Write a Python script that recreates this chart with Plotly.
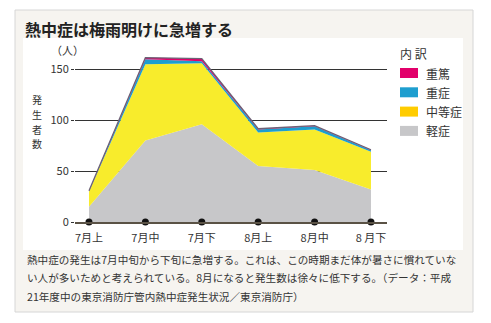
import plotly.graph_objects as go

categories = ["7月上", "7月中", "7月下", "8月上", "8月中", "8 月下"]
mild = [15, 80, 96, 55, 51, 32]          # 軽症
moderate = [15, 75, 60, 33, 40, 37]      # 中等症
severe = [0.5, 5, 2, 3, 3, 1.5]          # 重症
critical = [0.3, 1.5, 2.5, 0.6, 0.6, 0.5]  # 重篤
y_ticks = [0, 50, 100, 150]

W, H = 491, 323
L, R, T, B = 75, 104, 51, 101
FONT = "Noto Sans CJK JP"
C_MAG = "#e2006b"
C_CYAN = "#1e9ecf"
C_YEL = "#f8ec2c"
C_YEL_SW = "#ffcc00"
C_GRAY = "#c7c7c9"

def px(x):
    return (x - L) / (W - L - R)

def py(y):
    return 1 - (y - T) / (H - T - B)

fig = go.Figure()
series = [("軽症", mild, C_GRAY), ("中等症", moderate, C_YEL),
          ("重症", severe, C_CYAN), ("重篤", critical, C_MAG)]
for name, vals, col in series:
    fig.add_trace(go.Scatter(
        x=categories, y=vals, name=name, stackgroup="one", mode="lines",
        line=dict(width=0, color=col), fillcolor=col, showlegend=False,
        hoverinfo="skip"))
# top outline
fig.data[-1].line = dict(width=1.3, color="#6c6276")

fig.add_trace(go.Scatter(
    x=categories, y=[0 for _ in categories], mode="markers",
    marker=dict(color="#111", size=7), cliponaxis=False,
    showlegend=False, hoverinfo="skip"))

shapes = [
    dict(type="rect", xref="paper", yref="paper", x0=px(15), x1=px(473),
         y0=py(312), y1=py(10), fillcolor="#f6f4f0",
         line=dict(color="#d6d6d6", width=1), layer="below"),
    dict(type="rect", xref="paper", yref="paper", x0=px(23), x1=px(463),
         y0=py(250), y1=py(38), fillcolor="#ffffff",
         line=dict(width=0), layer="below"),
]

annotations = [
    dict(text="<b>熱中症は梅雨明けに急増する</b>", x=px(23), y=py(29),
         xanchor="left", yanchor="middle", font=dict(size=16, color="#222")),
    dict(text="（人）", x=px(49), y=py(50), xanchor="left", yanchor="middle",
         font=dict(size=11, color="#333")),
    dict(text="内 訳", x=px(398), y=py(53), xanchor="left", yanchor="middle",
         font=dict(size=12, color="#333")),
]
for i, ch in enumerate("発生者数"):
    annotations.append(dict(text=ch, x=px(37), y=py(100 + 14.6 * i),
                            xanchor="center", yanchor="middle",
                            font=dict(size=10, color="#333")))

legend_items = [("重篤", C_MAG), ("重症", C_CYAN), ("中等症", C_YEL_SW), ("軽症", C_GRAY)]
for i, (name, col) in enumerate(legend_items):
    yc = 73 + 19.3 * i
    shapes.append(dict(type="rect", xref="paper", yref="paper",
                       x0=px(400), x1=px(418), y0=py(yc + 5), y1=py(yc - 5),
                       fillcolor=col, line=dict(width=0)))
    annotations.append(dict(text=name, x=px(424), y=py(yc), xanchor="left",
                            yanchor="middle", font=dict(size=12, color="#333")))

caption = [
    "熱中症の発生は7月中旬から下旬に急増する。これは、この時期まだ体が暑さに慣れていな",
    "い人が多いためと考えられている。8月になると発生数は徐々に低下する。（データ：平成",
    "21年度中の東京消防庁管内熱中症発生状況／東京消防庁）",
]
for i, line in enumerate(caption):
    annotations.append(dict(text=line, x=px(25), y=py(259 + 18.5 * i),
                            xanchor="left", yanchor="middle",
                            font=dict(size=10.6, color="#333")))

for a in annotations:
    a.update(xref="paper", yref="paper", showarrow=False)

fig.update_layout(
    width=W, height=H, margin=dict(l=L, r=R, t=T, b=B),
    paper_bgcolor="#ffffff", plot_bgcolor="rgba(0,0,0,0)",
    font=dict(family=FONT, color="#333"),
    shapes=shapes, annotations=annotations, showlegend=False,
    xaxis=dict(type="category", range=[-0.248, 5.284], showgrid=False,
               showline=True, linecolor="#5a5245", linewidth=2,
               ticks="outside", ticklen=5, tickcolor="rgba(0,0,0,0)",
               tickfont=dict(size=11, color="#333"), zeroline=False),
    yaxis=dict(range=[0, 168], tickvals=y_ticks, showgrid=True,
               gridcolor="#333", gridwidth=1, zeroline=False,
               ticks="outside", ticklen=3, tickcolor="#333",
               tickfont=dict(size=11, color="#333"), showline=False),
)

fig.write_html("out.html")
